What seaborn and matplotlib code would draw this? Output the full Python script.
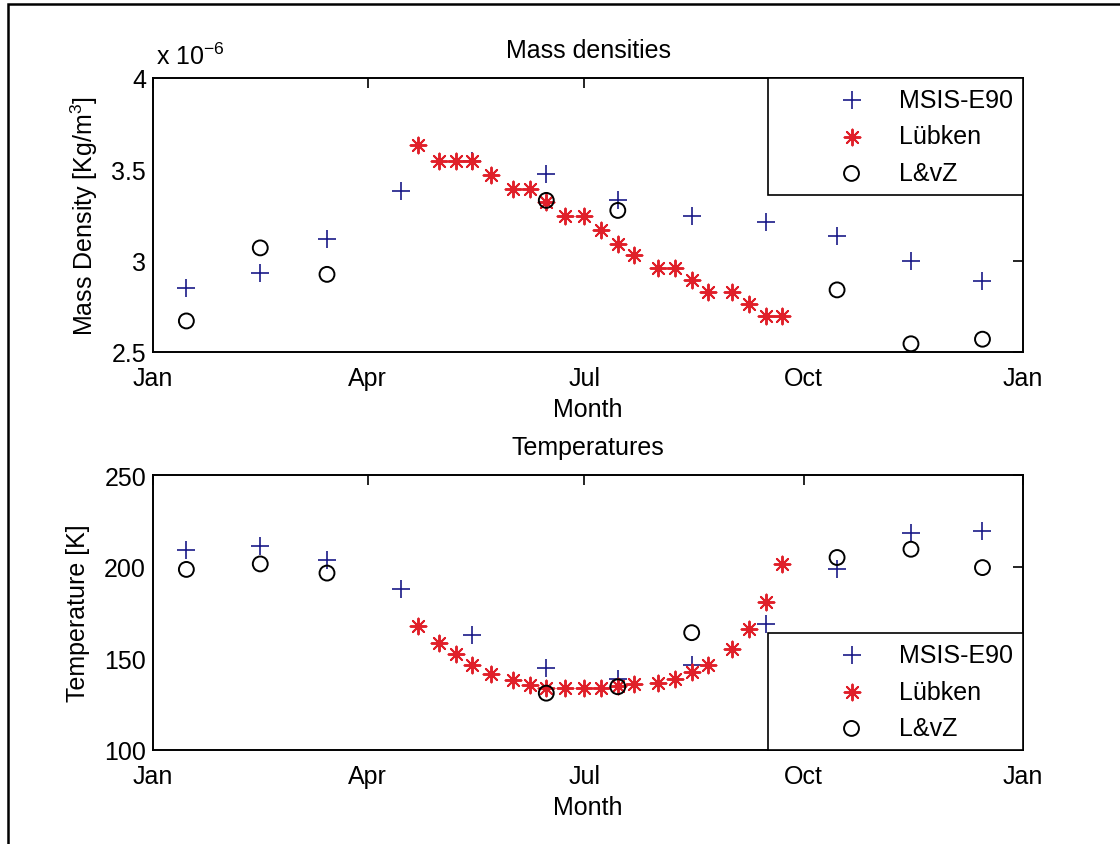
import numpy as np
import pandas as pd
import matplotlib
matplotlib.use("Agg")
import matplotlib.pyplot as plt
import matplotlib.dates as mdates
from matplotlib.ticker import FuncFormatter, FixedLocator
from matplotlib.patches import Rectangle
import seaborn as sns

# ---------------- data ----------------
msis_dates = ["2001-01-15", "2001-02-15", "2001-03-15", "2001-04-15", "2001-05-15", "2001-06-15",
              "2001-07-15", "2001-08-15", "2001-09-15", "2001-10-15", "2001-11-15", "2001-12-15"]
lubken_dates = ["2001-04-22", "2001-05-01", "2001-05-08", "2001-05-15", "2001-05-23", "2001-06-01",
                "2001-06-08", "2001-06-15", "2001-06-23", "2001-07-01", "2001-07-08", "2001-07-15",
                "2001-07-22", "2001-08-01", "2001-08-08", "2001-08-15", "2001-08-22", "2001-09-01",
                "2001-09-08", "2001-09-15", "2001-09-22"]

# mass densities in units of 1e-6 kg/m^3
dens_msis = [2.85, 2.93, 3.12, 3.38, 3.545, 3.475, 3.33, 3.245, 3.21, 3.135, 3.00, 2.89]
dens_lvz = [2.67, 3.07, 2.925, np.nan, np.nan, 3.33, 3.275, np.nan, np.nan, 2.84, 2.545, 2.57]
dens_lubken = [3.635, 3.545, 3.545, 3.545, 3.47, 3.395, 3.395, 3.32, 3.245, 3.245, 3.17,
               3.09, 3.03, 2.96, 2.96, 2.895, 2.83, 2.83, 2.765, 2.695, 2.695]

# temperatures in K
temp_msis = [209, 211.5, 203.5, 188, 162.5, 144.5, 138.5, 146.5, 169, 199, 218.5, 219.5]
temp_lvz = [198.5, 201.5, 196.5, np.nan, np.nan, 131, 134.5, 164, np.nan, 205, 209.5, 199.5]
temp_lubken = [167.5, 158.5, 152.5, 146.5, 141.5, 138, 135.5, 134, 134, 134, 134,
               135, 135.8, 136.7, 139, 142.5, 146.5, 155, 166, 180.5, 201.5]

series_labels = ["MSIS-E90", "Lübken", "L&vZ"]
month_tick_dates = ["2001-01-01", "2001-04-01", "2001-07-01", "2001-10-01", "2002-01-01"]
month_tick_labels = ["Jan", "Apr", "Jul", "Oct", "Jan"]

# ---------------- style ----------------
sns.set_style("white")
plt.rcParams["font.family"] = ["Liberation Sans", "DejaVu Sans"]
plt.rcParams["mathtext.default"] = "regular"
plt.rcParams["text.color"] = "black"
plt.rcParams["axes.labelcolor"] = "black"
FS = 18

BLUE = "#1a1a88"
RED = "#e0202a"

fig = plt.figure(figsize=(11.2, 8.45), dpi=100)
ax1 = fig.add_axes([153 / 1120, 1 - 353 / 845, 870 / 1120, 274 / 845])
ax2 = fig.add_axes([153 / 1120, 1 - 751 / 845, 870 / 1120, 275 / 845])

msis_x = pd.to_datetime(msis_dates)
lub_x = pd.to_datetime(lubken_dates)


def draw(ax, y_msis, y_lub, y_lvz):
    sns.scatterplot(x=msis_x, y=y_msis, ax=ax, marker="+", s=150, color=BLUE,
                    linewidth=1.2, label=series_labels[0], zorder=3)
    sns.scatterplot(x=lub_x, y=y_lub, ax=ax, marker=(8, 2, 0), s=130, color=RED,
                    linewidth=1.4, label=series_labels[1], zorder=3)
    sns.scatterplot(x=msis_x, y=y_lvz, ax=ax, marker="o", s=115, facecolor="none",
                    edgecolor="black", linewidth=1.4, label=series_labels[2], zorder=4)


draw(ax1, dens_msis, dens_lubken, dens_lvz)
draw(ax2, temp_msis, temp_lubken, temp_lvz)

ticks_x = [mdates.date2num(pd.Timestamp(d)) for d in month_tick_dates]
for ax in (ax1, ax2):
    ax.set_xlim(ticks_x[0], ticks_x[-1])
    ax.xaxis.set_major_locator(FixedLocator(ticks_x))
    ax.set_xticklabels(month_tick_labels)
    ax.tick_params(direction="in", length=7, width=1.2, top=True, right=True,
                   labelsize=FS, colors="black")
    ax.tick_params(axis="x", pad=10)
    ax.tick_params(axis="y", pad=5)
    for sp in ax.spines.values():
        sp.set_linewidth(1.4)
        sp.set_color("black")
    ax.set_xlabel("Month", fontsize=FS, labelpad=5)
    ax.yaxis.set_major_formatter(FuncFormatter(lambda v, p: f"{v:g}"))

ax1.set_ylim(2.5, 4)
ax1.set_yticks([2.5, 3, 3.5, 4])
ax2.set_ylim(100, 250)
ax2.set_yticks([100, 150, 200, 250])

ax1.set_ylabel("Mass Density [Kg/m$^3$]", fontsize=FS, labelpad=8)
ax2.set_ylabel("Temperature [K]", fontsize=FS, labelpad=10)
ax1.set_title("Mass densities", fontsize=FS, pad=15)
ax2.set_title("Temperatures", fontsize=FS, pad=15)

ax1.annotate("x 10$^{-6}$", xy=(0, 1), xycoords="axes fraction", xytext=(2, 10),
             textcoords="offset points", ha="left", va="baseline", fontsize=FS)

for ax, loc in ((ax1, "upper right"), (ax2, "lower right")):
    leg = ax.legend(loc=loc, borderaxespad=0, frameon=True, fancybox=False, framealpha=1,
                    edgecolor="black", fontsize=FS, handlelength=5.9, handletextpad=-1.05,
                    borderpad=0.4, labelspacing=0.5, scatterpoints=1)
    leg.get_frame().set_linewidth(1.2)

# figure border (left and top edges visible)
fig.add_artist(Rectangle((8 / 1120, -0.1), 1.2, 1.1 - 5 / 845, transform=fig.transFigure,
                         fill=False, edgecolor="black", linewidth=1.8, clip_on=False))

fig.savefig("out.png", dpi=100, facecolor="white")
